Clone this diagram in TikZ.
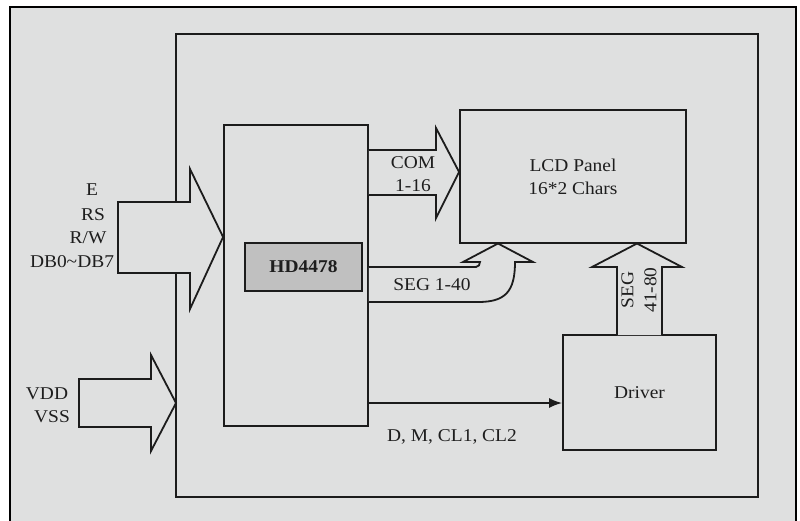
\documentclass[tikz,border=0pt]{standalone}
\usepackage{fontspec}
\setmainfont{Liberation Serif}[FakeStretch=1.08]
\usetikzlibrary{arrows.meta,calc}
\definecolor{paper}{RGB}{223,224,224}
\definecolor{ink}{RGB}{28,28,28}
\definecolor{chipgrey}{RGB}{192,192,192}
\definecolor{txt}{RGB}{30,30,30}
\begin{document}
\begin{tikzpicture}[x=1pt,y=-1pt,
  every node/.style={text=txt,font=\fontsize{18}{23}\selectfont},
  box/.style={draw=ink,line width=1.8pt,fill=paper,inner sep=0pt,align=center},
  blockarrow/.style={draw=ink,line width=1.8pt,fill=paper,line join=miter},
  lbl/.style={inner sep=0pt,align=center}]
\useasboundingbox (0,0) rectangle (800,520);
\fill[white] (0,0) rectangle (800,520);
\fill[paper] (10,7) rectangle (796,530);
\draw[black,line width=2.6pt] (10,7) rectangle (796,530);
% module outline
\draw[ink,line width=1.8pt] (176,34) rectangle (758,497);
% nodes
\node[box,minimum width=144pt,minimum height=301pt] (ctrl) at (296,275.5) {};
\node[box,fill=chipgrey,minimum width=117pt,minimum height=48pt,font=\bfseries\fontsize{18}{23}\selectfont] (chip) at (303.5,267) {HD4478};
\node[box,minimum width=226pt,minimum height=133pt] (lcd) at (573,176.5) {LCD Panel\\16*2 Chars};
\node[box,minimum width=153pt,minimum height=115pt] (driver) at (639.5,392.5) {Driver};
% input block arrows
\draw[blockarrow] (118,202) -- (190,202) -- (190,169) -- (ctrl.west |- 0,237) -- (190,309) -- (190,273) -- (118,273) -- cycle;
\draw[blockarrow] (79,379) -- (151,379) -- (151,355) -- (176,403) -- (151,451) -- (151,427) -- (79,427) -- cycle;
% COM arrow
\draw[blockarrow] (ctrl.east |- 0,150) -- (436,150) -- (436,128) -- (lcd.west |- 0,172) -- (436,218) -- (436,195) -- (ctrl.east |- 0,195);
% SEG 1-40 arrow
\draw[blockarrow] (ctrl.east |- 0,267) -- (476,267) to[out=0,in=-90] (480,262) -- (463,262) -- (498,243.5) -- (533,262) -- (515,262)
  .. controls (515,292) and (505,302) .. (478,302) -- (ctrl.east |- 0,302);
% SEG 41-80 arrow
\draw[blockarrow] (617,335) -- (617,267) -- (592,267) -- (637,243.5) -- (682,267) -- (662,267) -- (662,335);
% control signals
\coordinate (dm) at (ctrl.east |- 0,403);
\draw[ink,line width=1.8pt,-{Latex[length=13pt,width=10pt]}] (dm) -- (dm -| driver.west);
% labels
\node[lbl] (le) at (92,190) {E};
\node[lbl] (lrs) at (93,215) {RS};
\node[lbl] (lrw) at (88,238) {R/W};
\node[lbl] (ldb) at (72,262) {DB0\textasciitilde DB7};
\node[lbl] (lvdd) at (47,394) {VDD};
\node[lbl] (lvss) at (52,417) {VSS};
\node[lbl] (lcom) at (413,174.5) {COM\\1-16};
\node[lbl] (lseg) at (432,285) {SEG 1-40};
\node[lbl,rotate=90] (lseg2) at (639,290) {SEG\\41-80};
\node[lbl] (ldm) at (452,437) {D, M, CL1, CL2};
\end{tikzpicture}
\end{document}
